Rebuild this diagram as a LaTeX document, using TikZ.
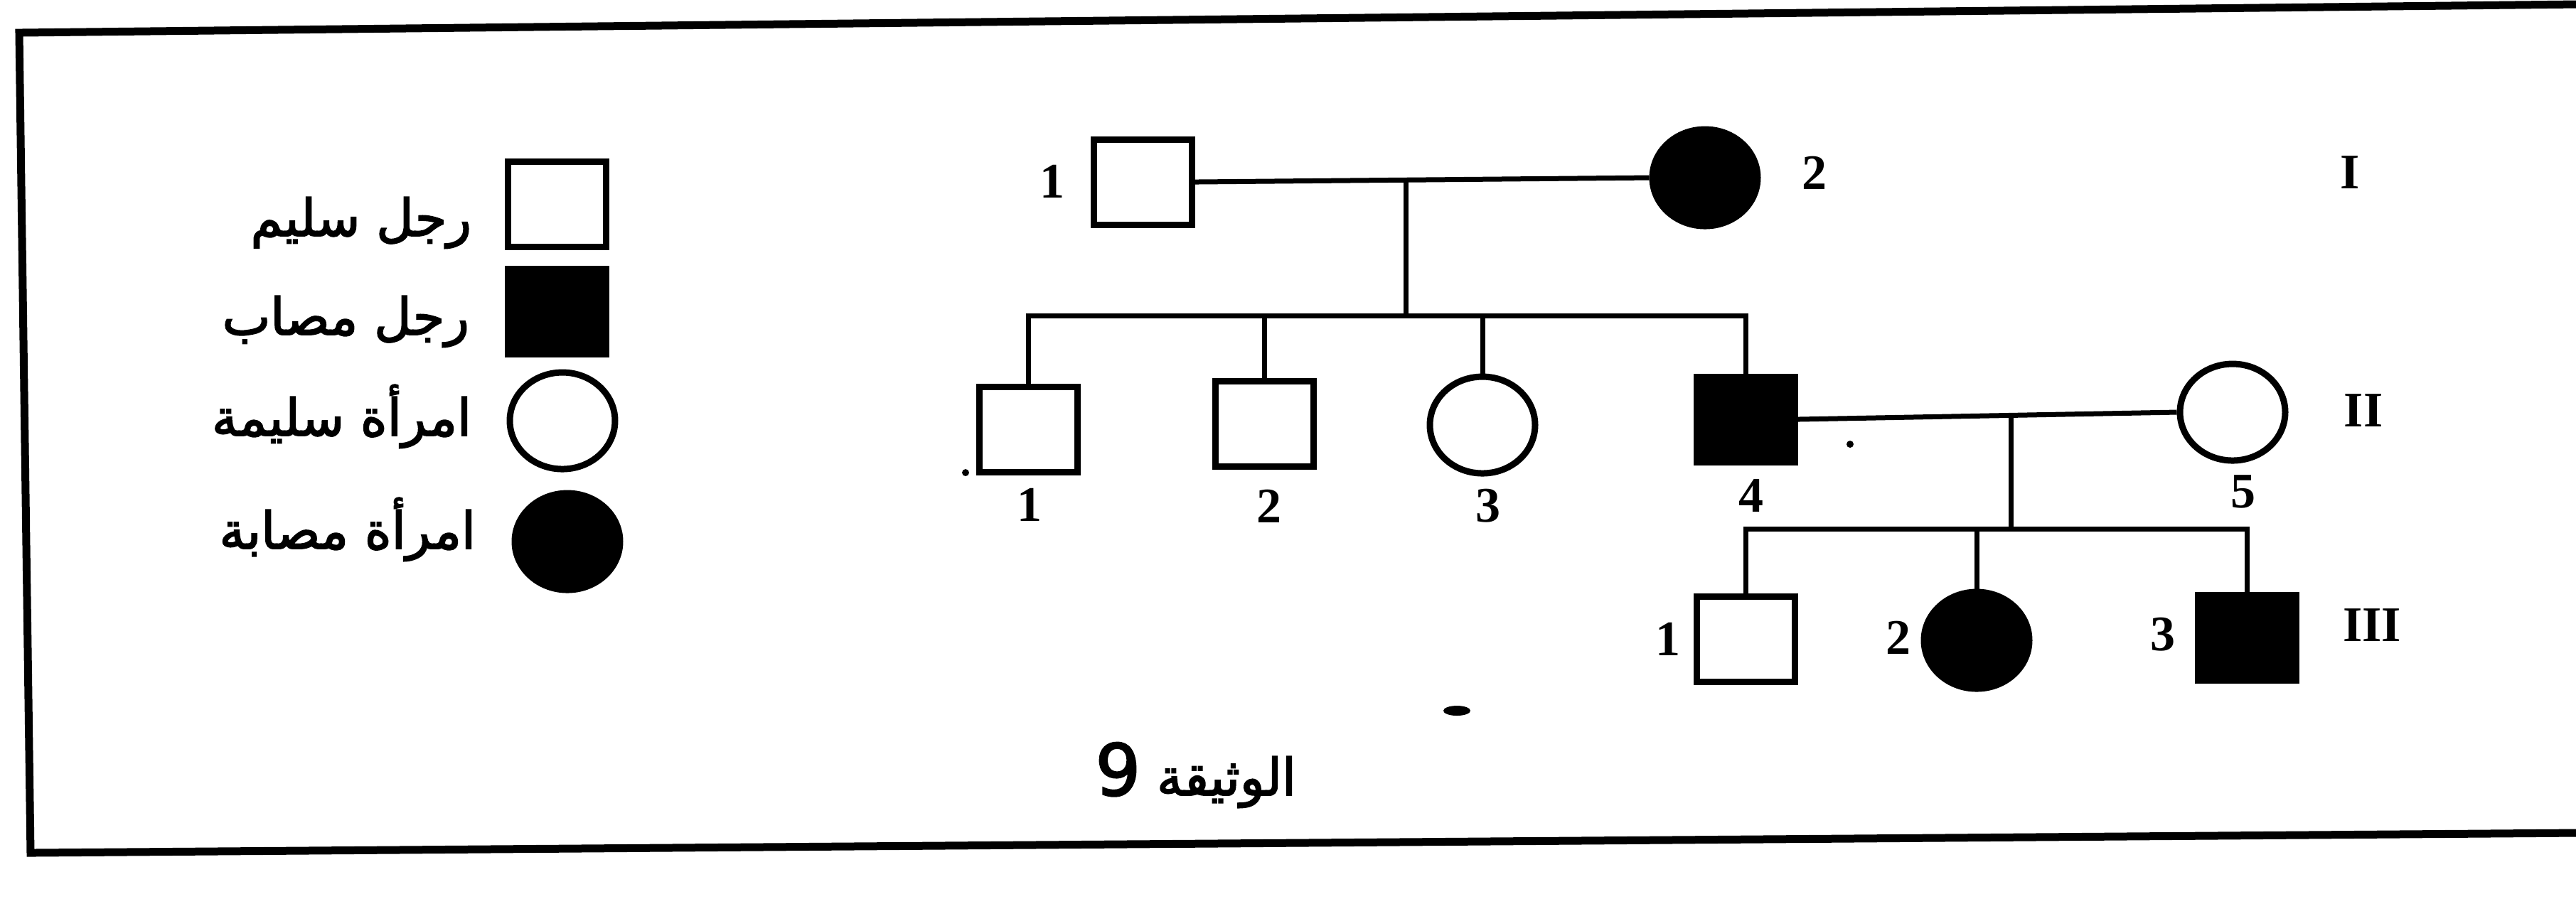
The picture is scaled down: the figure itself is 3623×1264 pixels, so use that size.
\documentclass[tikz,border=0pt]{standalone}
\usepackage{fontspec}
\usetikzlibrary{shapes.geometric}
\TeXXeTstate=1
\newfontfamily\arabicfont[Script=Arabic,FakeBold=2.5]{DejaVu Sans}
\newfontfamily\numfont{Liberation Serif}
\begin{document}
\begin{tikzpicture}[x=0.1pt,y=-0.1pt,
  sq/.style={draw,rectangle,line width=0.9pt,minimum width=13.8pt,minimum height=12pt,inner sep=0pt},
  circ/.style={draw,ellipse,line width=0.9pt,minimum width=14.8pt,minimum height=13.6pt,inner sep=0pt},
  aff/.style={fill=black},
  lbl/.style={font=\numfont\bfseries\fontsize{7}{8}\selectfont,inner sep=0pt},
  ar/.style={font=\arabicfont\fontsize{7.2}{8}\selectfont,inner sep=0pt,anchor=base east},
  link/.style={line width=0.7pt},
  noise/.style={fill=black}]
\useasboundingbox (0,0) rectangle (3623,1264);
\fill[white] (0,0) rectangle (3623,1264);
% frame (open at the right, as in the scan)
\draw[line width=1.1pt,line join=miter] (3623,6) -- (27,46) -- (43,1200) -- (3623,1172);
% legend
\node[sq] (k1) at (783,287) {};
\node[sq,aff] (k2) at (783,438) {};
\node[circ] (k3) at (791,592) {};
\node[circ,aff] (k4) at (798,762) {};
\node[ar] (t1) at (665,332) {\beginR رجل سليم\endR};
\node[ar] (t2) at (662,471) {\beginR رجل مصاب\endR};
\node[ar] (t3) at (665,613) {\beginR امرأة سليمة\endR};
\node[ar] (t4) at (671,772) {\beginR امرأة مصابة\endR};
% generation I
\node[sq] (I1) at (1607,256) {};
\node[circ,aff] (I2) at (2398,250) {};
% generation II
\node[sq] (II1) at (1446,604) {};
\node[sq] (II2) at (1778,596) {};
\node[circ] (II3) at (2085,598) {};
\node[sq,aff] (II4) at (2455,590) {};
\node[circ] (II5) at (3140,580) {};
% generation III
\node[sq] (III1) at (2455,899) {};
\node[circ,aff] (III2) at (2780,901) {};
\node[sq,aff] (III3) at (3160,897) {};
% connectors
\coordinate (mI) at (1977,253);
\coordinate (sI) at (1977,444);
\draw[link] (I1.east) -- (I2.west);
\draw[link] (mI) -- (sI);
\draw[link] (II1.north) |- (sI) -| (II4.north);
\draw[link] (II2.north) -- (II2.north |- sI);
\draw[link] (II3.north) -- (II3.north |- sI);
\coordinate (mII) at (2828,586);
\coordinate (sII) at (2828,744);
\draw[link] (II4.east) -- (II5.west);
\draw[link] (mII) -- (sII);
\draw[link] (III1.north) |- (sII) -| (III3.north);
\draw[link] (III2.north) -- (III2.north |- sII);
% labels
\node[lbl] (nI1) at (1480,255) {1};
\node[lbl] (nI2) at (2552,243) {2};
\node[lbl] (gI) at (3305,243) {I};
\node[lbl] (nII1) at (1448,710) {1};
\node[lbl] (nII2) at (1785,712) {2};
\node[lbl] (nII3) at (2093,712) {3};
\node[lbl] (nII4) at (2463,697) {4};
\node[lbl] (nII5) at (3155,692) {5};
\node[lbl] (gII) at (3324,578) {II};
\node[lbl] (nIII1) at (2346,899) {1};
\node[lbl] (nIII2) at (2670,897) {2};
\node[lbl] (nIII3) at (3042,893) {3};
\node[lbl] (gIII) at (3336,880) {III};
% caption
\node[ar] (cap) at (1825,1119) {\beginR الوثيقة {\fontsize{10}{10}\selectfont 9}\endR};
% scan marks
\fill[noise] (2049,1000) ellipse (19 and 7);
\fill[noise] (1358,665) circle (5);
\fill[noise] (2602,625) circle (5);
\end{tikzpicture}
\end{document}
